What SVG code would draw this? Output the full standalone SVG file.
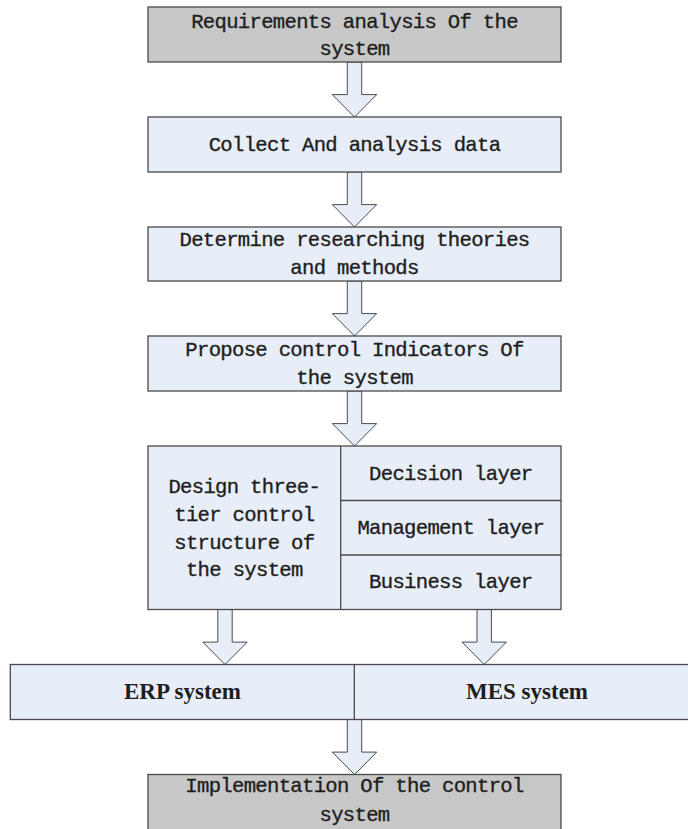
<svg xmlns="http://www.w3.org/2000/svg" width="688" height="829" viewBox="0 0 688 829">
  <style>
    .box { fill: #e8eef7; stroke: #4a4a4a; stroke-width: 1.3; }
    .grey { fill: #c8c8c8; stroke: #4a4a4a; stroke-width: 1.3; }
    .div { stroke: #4a4a4a; stroke-width: 1.3; fill: none; }
    .t { font-family: "Liberation Mono", "DejaVu Sans Mono", monospace; font-size: 20.6px; letter-spacing: -0.69px; fill: #1e1e1e; stroke: #1e1e1e; stroke-width: 0.35; text-anchor: middle; }
    .tb { font-family: "Liberation Serif", "Times New Roman", serif; font-size: 23px; font-weight: bold; fill: #1e1e1e; text-anchor: middle; }
    .arrow { fill: #e8eef7; stroke: #4a4a4a; stroke-width: 1; }
  </style>
  <defs>
    <!-- hollow block arrow, 55 px long, centred on x=0 -->
    <path id="blockArrow" d="M -7.2 0 V 32.6 H -22.2 L 0 55 L 22.2 32.6 H 7.2 V 0 Z"/>
  </defs>
  <rect width="688" height="829" fill="#ffffff"/>

  <g id="connectors">
    <use href="#blockArrow" class="arrow" x="354.5" y="62"/>
    <use href="#blockArrow" class="arrow" x="354.5" y="172"/>
    <use href="#blockArrow" class="arrow" x="354.5" y="281"/>
    <use href="#blockArrow" class="arrow" x="354.5" y="391"/>
    <use href="#blockArrow" class="arrow" x="225" y="609.5"/>
    <use href="#blockArrow" class="arrow" x="484.2" y="609.5"/>
    <use href="#blockArrow" class="arrow" x="354.5" y="719.5"/>
  </g>

  <g id="requirements">
    <rect class="grey" x="148" y="7" width="413" height="55"/>
    <text class="t" x="354.5" y="27.5">Requirements analysis Of the</text>
    <text class="t" x="354.5" y="55">system</text>
  </g>

  <g id="collect">
    <rect class="box" x="148" y="117" width="413" height="55"/>
    <text class="t" x="354.5" y="151">Collect And analysis data</text>
  </g>

  <g id="determine">
    <rect class="box" x="148" y="227" width="413" height="54"/>
    <text class="t" x="354.5" y="246">Determine researching theories</text>
    <text class="t" x="354.5" y="274">and methods</text>
  </g>

  <g id="propose">
    <rect class="box" x="148" y="336" width="413" height="55"/>
    <text class="t" x="354.5" y="356">Propose control Indicators Of</text>
    <text class="t" x="354.5" y="383.5">the system</text>
  </g>

  <g id="design">
    <rect class="box" x="148" y="446" width="413" height="163.5"/>
    <line class="div" x1="340.7" y1="446" x2="340.7" y2="609.5"/>
    <line class="div" x1="340.7" y1="500.5" x2="561" y2="500.5"/>
    <line class="div" x1="340.7" y1="555" x2="561" y2="555"/>
    <text class="t" x="244.3" y="492.7">Design three-</text>
    <text class="t" x="244.3" y="521">tier control</text>
    <text class="t" x="244.3" y="548.5">structure of</text>
    <text class="t" x="244.3" y="576">the system</text>
    <text class="t" x="450.8" y="479.5">Decision layer</text>
    <text class="t" x="450.8" y="533.5">Management layer</text>
    <text class="t" x="450.8" y="588.3">Business layer</text>
  </g>

  <g id="systems">
    <rect class="box" x="10.3" y="664.5" width="690" height="55"/>
    <line class="div" x1="354.3" y1="664.5" x2="354.3" y2="719.5"/>
    <text class="tb" x="182.5" y="699">ERP system</text>
    <text class="tb" x="527" y="699">MES system</text>
  </g>

  <g id="implementation">
    <rect class="grey" x="148" y="774.5" width="413" height="70"/>
    <text class="t" x="354.5" y="792">Implementation Of the control</text>
    <text class="t" x="354.5" y="821">system</text>
  </g>
</svg>
